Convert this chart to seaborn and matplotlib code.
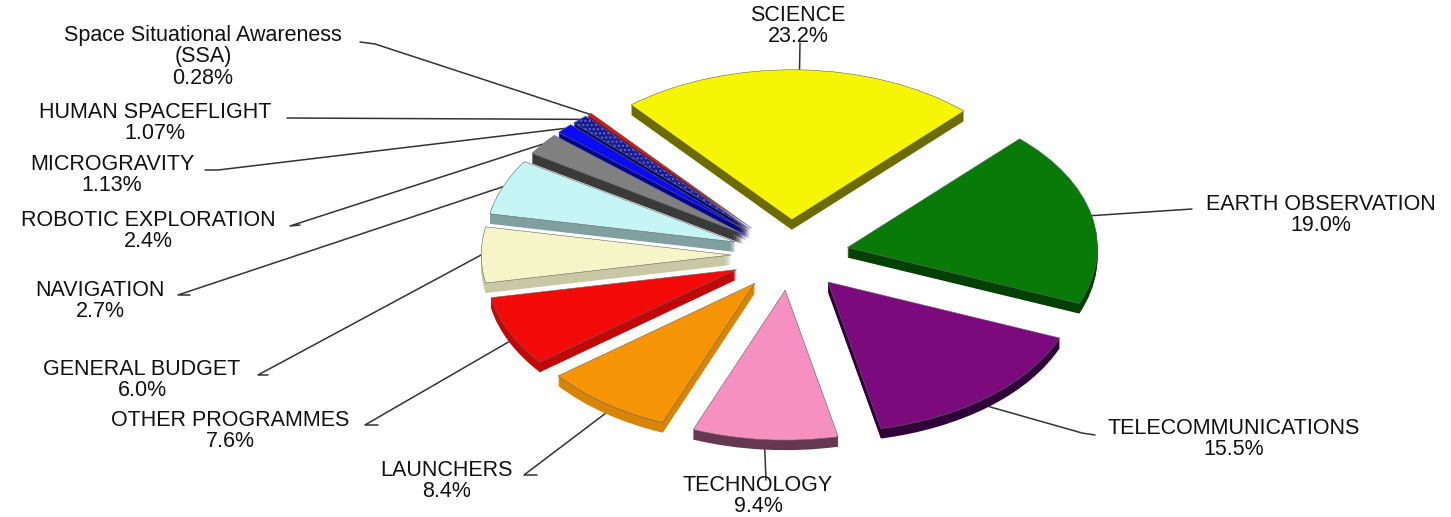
#!/usr/bin/env python

import numpy as np
import matplotlib
matplotlib.use("Agg")
import matplotlib.pyplot as plt
import seaborn as sns

names = ["SCIENCE", "EARTH OBSERVATION", "TELECOMMUNICATIONS", "TECHNOLOGY",
         "LAUNCHERS", "OTHER PROGRAMMES", "GENERAL BUDGET", "NAVIGATION",
         "ROBOTIC EXPLORATION", "MICROGRAVITY", "HUMAN SPACEFLIGHT",
         "Space Situational Awareness\n(SSA)"]
# slice sizes as drawn in the picture (navigation is drawn wider than its label)
shares = [23.2, 19.0, 15.5, 9.4, 8.4, 7.6, 6.0, 6.0, 2.4, 1.13, 1.07, 0.28]
share_labels = ["23.2%", "19.0%", "15.5%", "9.4%", "8.4%", "7.6%", "6.0%",
                "2.7%", "2.4%", "1.13%", "1.07%", "0.28%"]

top_colors = ["#f5f505", "#087a08", "#7d0a7d", "#f590c0", "#f59505", "#f50a0a",
              "#f5f5c8", "#c5f5f5", "#808080", "#0a0af5", "#1a1a8c", "#e01010"]
wall_colors = ["#6b6b00", "#034003", "#30003a", "#653850", "#d88505", "#c00808",
               "#c8c8a5", "#80a0a0", "#3a3a3a", "#000090", "#0a0a50", "#700808"]

# label centres and leader lines in image pixels (y down)
label_pos = [(798, 26), (1321, 215), (1234, 439), (758, 496), (447, 481),
             (230, 431), (142, 380), (100, 301), (148, 231), (112, 175),
             (155, 123), (203, 57)]
leader_start = [(800, 43), (1192, 209), (1095, 435), (766, 480), (537, 475),
                (378, 425), (268, 375), (190, 295), (300, 225), (205, 170),
                (287, 118), (360, 42)]
leader_elbow = [(800, 43), (1192, 209), (1082, 433), (766, 480), (524, 475),
                (365, 425), (258, 375), (178, 295), (290, 226), (218, 170),
                (287, 118), (375, 44)]

W, H = 1451, 517
CX, CY, RX, RY = 790, 255, 250, 150
DEPTH = 10
START = 130
EXPLODE = [0.235] * len(shares)


def to_data(p):
    return (p[0] - CX) / RX, (CY - p[1]) / RY


sns.set_theme(style="white")
plt.rcParams["font.family"] = ["Liberation Sans", "DejaVu Sans"]

fig = plt.figure(figsize=(W / 100, H / 100), dpi=100)
ax = fig.add_axes([0, 0, 1, 1])

# side walls, stacked downwards
for d in range(DEPTH, 0, -1):
    ax.pie(shares, explode=EXPLODE, colors=sns.color_palette(wall_colors),
           startangle=START, counterclock=False, center=(0, -d / RY),
           wedgeprops=dict(linewidth=0))

wedges, _ = ax.pie(shares, explode=EXPLODE, colors=sns.color_palette(top_colors),
                   startangle=START, counterclock=False,
                   wedgeprops=dict(linewidth=0.4, edgecolor="#666666"))
wedges[10].set_hatch("....")
wedges[10].set_edgecolor("#5a6ad0")

ax.set_aspect("auto")
ax.set_xlim(-CX / RX, (W - CX) / RX)
ax.set_ylim((CY - H) / RY, CY / RY)
ax.axis("off")

for i, w in enumerate(wedges):
    mid = np.deg2rad((w.theta1 + w.theta2) / 2)
    tip_x = w.center[0] + w.r * np.cos(mid)
    tip_y = w.center[1] + w.r * np.sin(mid)
    if np.sin(mid) < 0:
        tip_y -= DEPTH / RY
    x0, y0 = to_data(leader_start[i])
    x1, y1 = to_data(leader_elbow[i])
    ax.plot([x0, x1, tip_x], [y0, y1, tip_y], color="#333333", lw=1.1, zorder=0.5)
    lx, ly = to_data(label_pos[i])
    ax.text(lx, ly, names[i] + "\n" + share_labels[i], ha="center", va="center",
            fontsize=15.5, color="#111111", linespacing=1.02)

fig.savefig("out.png", dpi=100, facecolor="white")
